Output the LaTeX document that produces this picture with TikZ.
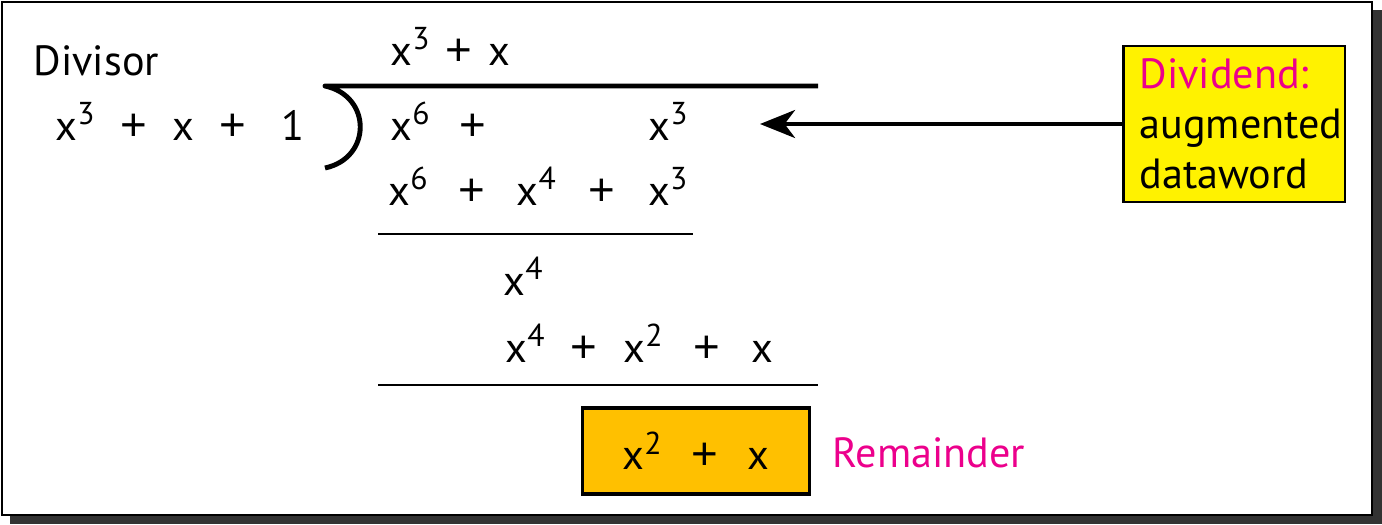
\documentclass[tikz,border=0pt]{standalone}
\usepackage{fontspec}
\setmainfont{PT Sans}
\newfontfamily\plusfont{Liberation Sans}
\usetikzlibrary{arrows.meta}
\definecolor{labelpink}{RGB}{236,0,140}
\definecolor{remorange}{RGB}{255,192,0}
\newcommand{\xp}[1]{x\raisebox{0.36em}{\fontsize{9}{9}\selectfont #1}}
\newcommand{\bigplus}{{\plusfont\fontsize{13}{13}\selectfont +}}
\newcommand{\plusgap}[1][0.7em]{\hspace{#1}\bigplus\hspace{#1}}

\begin{document}
\begin{tikzpicture}[x=0.01cm,y=-0.01cm,
    every node/.style={inner sep=0pt,font=\fontsize{12}{14.2}\selectfont}]
        \useasboundingbox (0,0) rectangle (1382,524);
        \fill[black!80] (10,10) rectangle (1382,524);
        \draw[fill=white,line width=0.6pt] (2,2) rectangle (1372,515);

        \draw (33,75) node[anchor=base west] (divisor) {Divisor};
        \draw (55,140) node[anchor=base west] (poly) {\xp{3}\plusgap[0.6em]x\plusgap[0.6em]\hspace{0.25em}1};
        \draw (390,65) node[anchor=base west] (quot) {\xp{3}\plusgap[0.38em]x};

        % dividend and the steps of the division
        \draw (390,140) node[anchor=base west] (rowa) {\xp{6}\hspace{0.7em}\bigplus};
        \draw (648,140) node[anchor=base west] (rowb) {\xp{3}};
        \draw (388,205) node[anchor=base west] (rowc) {\xp{6}\plusgap[0.74em]\xp{4}\plusgap[0.78em]\xp{3}};
        \draw (503,295) node[anchor=base west] (rowd) {\xp{4}};
        \draw (505,362) node[anchor=base west] (rowe) {\xp{4}\plusgap[0.62em]\xp{2}\plusgap[0.74em]x};

        \draw[line width=1.4pt,line join=round] (818,86) -- (325,86)
        .. controls (372,96) and (372,158) .. (325,168);
        \draw[line width=0.8pt] (378,234) -- (693,234);
        \draw[line width=0.8pt] (378,385) -- (818,385);

        \draw (696,451) node[draw,fill=remorange,line width=1pt,
        minimum width=2.27cm,minimum height=0.86cm] (rem) {\xp{2}\plusgap[0.7em]x};
        \draw (832,467) node[anchor=base west,text=labelpink] (remlabel) {Remainder};

        \draw (1234,124) node[draw,fill=yellow,line width=0.6pt,
        text width=1.89cm,align=left,inner xsep=0.16cm,
        minimum height=1.56cm] (dividend)
        {\textcolor{labelpink}{Dividend:}\\augmented\\dataword};
        \coordinate (tip) at (760,124);
        \draw[line width=0.9pt,-{Stealth[length=10pt,width=8pt,inset=3pt]}] (dividend.west) -- (tip);
\end{tikzpicture}
\end{document}
